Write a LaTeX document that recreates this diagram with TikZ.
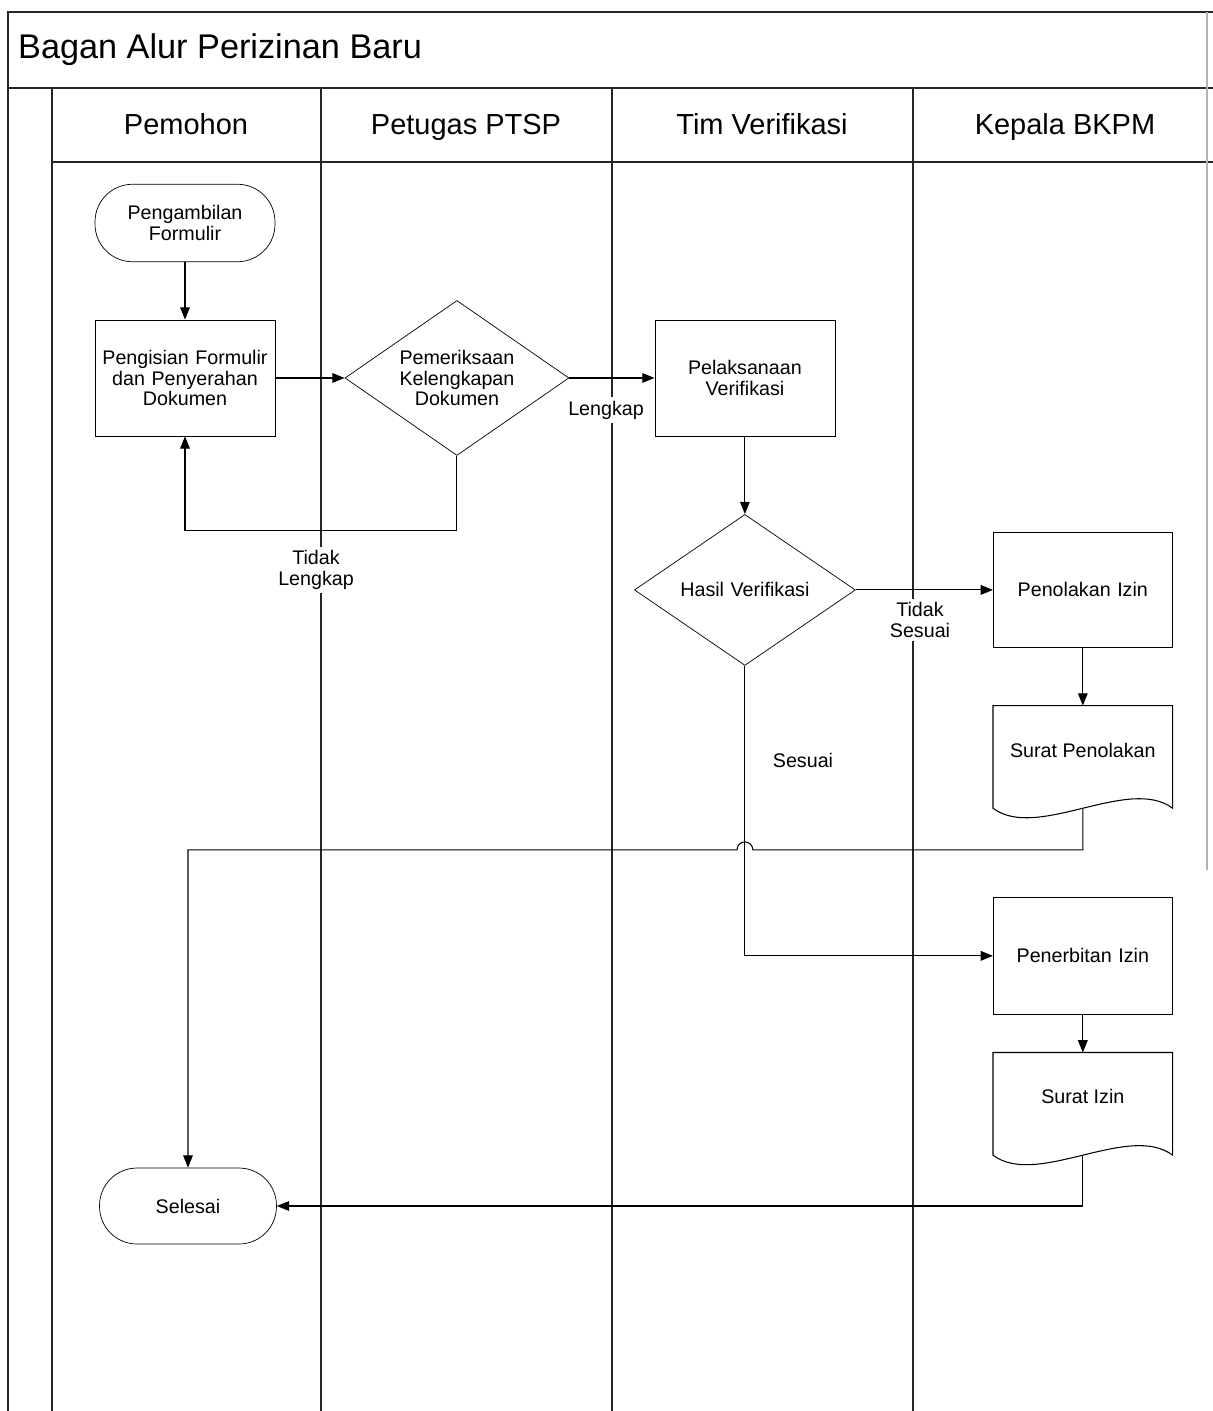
\documentclass[tikz,border=0pt]{standalone}
\usepackage{fontspec}
\setmainfont{Liberation Sans}
\usetikzlibrary{shapes,arrows,arrows.meta,positioning,calc}

\begin{document}
\begin{tikzpicture}[x=0.02cm, y=-0.02cm, node distance=2cm, auto, font=\fontsize{11.2}{11.7}\selectfont]
    % Styles
    \tikzstyle{lane} = [draw=black!85, line width=0.7pt]
    \tikzstyle{head} = [font=\fontsize{16.5}{18}\selectfont, text height=12pt, text depth=3.5pt]
    \tikzstyle{terminal} = [rectangle, draw, rounded corners=0.75cm, minimum width=3.6cm, minimum height=1.55cm, text width=3.3cm, text centered, inner sep=1pt]
    \tikzstyle{block} = [rectangle, draw, minimum width=3.6cm, minimum height=2.32cm, text width=3.5cm, text centered, inner sep=1pt]
    \tikzstyle{decision} = [diamond, draw, aspect=1.45, text width=2.5cm, text centered, inner sep=1pt]
    \tikzstyle{docbox} = [rectangle, minimum width=3.58cm, minimum height=2.04cm, text depth=8pt, inner sep=1pt]
    \tikzstyle{note} = [align=center, fill=white, inner sep=2pt]
    \tikzstyle{arrow} = [line width=0.6pt, -{Triangle[length=7pt,width=5.5pt]}]

    \useasboundingbox (0,0) rectangle (1213,1411);

    % Lanes
    \draw [lane] (8,1411) -- (8,12) -- (1213,12);
    \draw [lane] (8,88) -- (1213,88);
    \draw [lane] (52,1411) -- (52,88);
    \draw [lane] (52,162) -- (1213,162);
    \foreach \x in {321,612,913}
        \draw [lane] (\x,88) -- (\x,1411);
    \draw [draw=black!30, line width=0.6pt] (1207,12) -- (1207,870);

    \node [anchor=west, font=\fontsize{19.5}{22}\selectfont] (title) at (12,50) {Bagan Alur Perizinan Baru};
    \node [head] (hpemohon) at (186,127) {Pemohon};
    \node [head] (hpetugas) at (466,127) {Petugas PTSP};
    \node [head] (htim) at (762,127) {Tim Verifikasi};
    \node [head] (hkepala) at (1065,127) {Kepala BKPM};

    % Nodes
    \node [terminal] (start) at (185,223) {Pengambilan\\Formulir};
    \node [block, below of=start, node distance=3.1cm] (fill) {Pengisian Formulir\\dan Penyerahan\\Dokumen};
    \node [decision, right of=fill, node distance=5.44cm, minimum width=4.48cm, minimum height=3.1cm] (check) {Pemeriksaan\\Kelengkapan\\Dokumen};
    \node [block, right of=check, node distance=5.76cm] (verif) {Pelaksanaan\\Verifikasi};
    \node [decision, below of=verif, node distance=4.24cm, minimum width=4.42cm, minimum height=3.02cm, text width=3cm] (result) {Hasil Verifikasi};
    \node [block, right of=result, node distance=6.76cm, minimum width=3.58cm, minimum height=2.3cm] (reject) {Penolakan Izin};
    \node [docbox, below of=reject, node distance=3.34cm] (rejletter) {Surat Penolakan};
    \node [block, below of=rejletter, node distance=3.98cm, minimum width=3.58cm, minimum height=2.34cm] (issue) {Penerbitan Izin};
    \node [docbox, below of=issue, node distance=2.96cm] (letter) {Surat Izin};
    \node [terminal, minimum width=3.54cm, minimum height=1.52cm] (finish) at (188,1206) {Selesai};

    % Document outlines
    \foreach \d in {rejletter,letter}
        \draw [line width=0.6pt] (\d.north west) -- (\d.north east) -- (\d.south east)
            .. controls +(-44,-33) and +(44,33) .. (\d.south west) -- cycle;

    % Labels
    \node [note] (lbltl) at (316,570) {Tidak\\Lengkap};
    \node [note] (lbll) at (606,410) {Lengkap};
    \node [note] (lblts) at (920,620) {Tidak\\Sesuai};
    \node [note] (lbls) at (803,760) {Sesuai};

    % Arrows
    \draw [arrow] (start) -- (fill);
    \draw [arrow] (fill) -- (check);
    \draw [arrow] (check.south) -- ++(0,75) -| (fill.south);
    \draw [arrow] (check) -- (verif);
    \draw [arrow] (verif) -- (result);
    \draw [arrow] (result) -- (reject);
    \draw [arrow] (reject) -- (rejletter.north);
    \coordinate (hop) at ($(result.south)+(0,184)$);
    \draw [arrow] (rejletter.south) |- ([xshift=4.5pt]hop) arc [start angle=0, end angle=180, radius=4.5pt] -| (finish.north);
    \draw [arrow] (result.south) |- (issue.west);
    \draw [arrow] (issue) -- (letter.north);
    \draw [arrow] (letter.south) |- (finish.east);
\end{tikzpicture}
\end{document}
